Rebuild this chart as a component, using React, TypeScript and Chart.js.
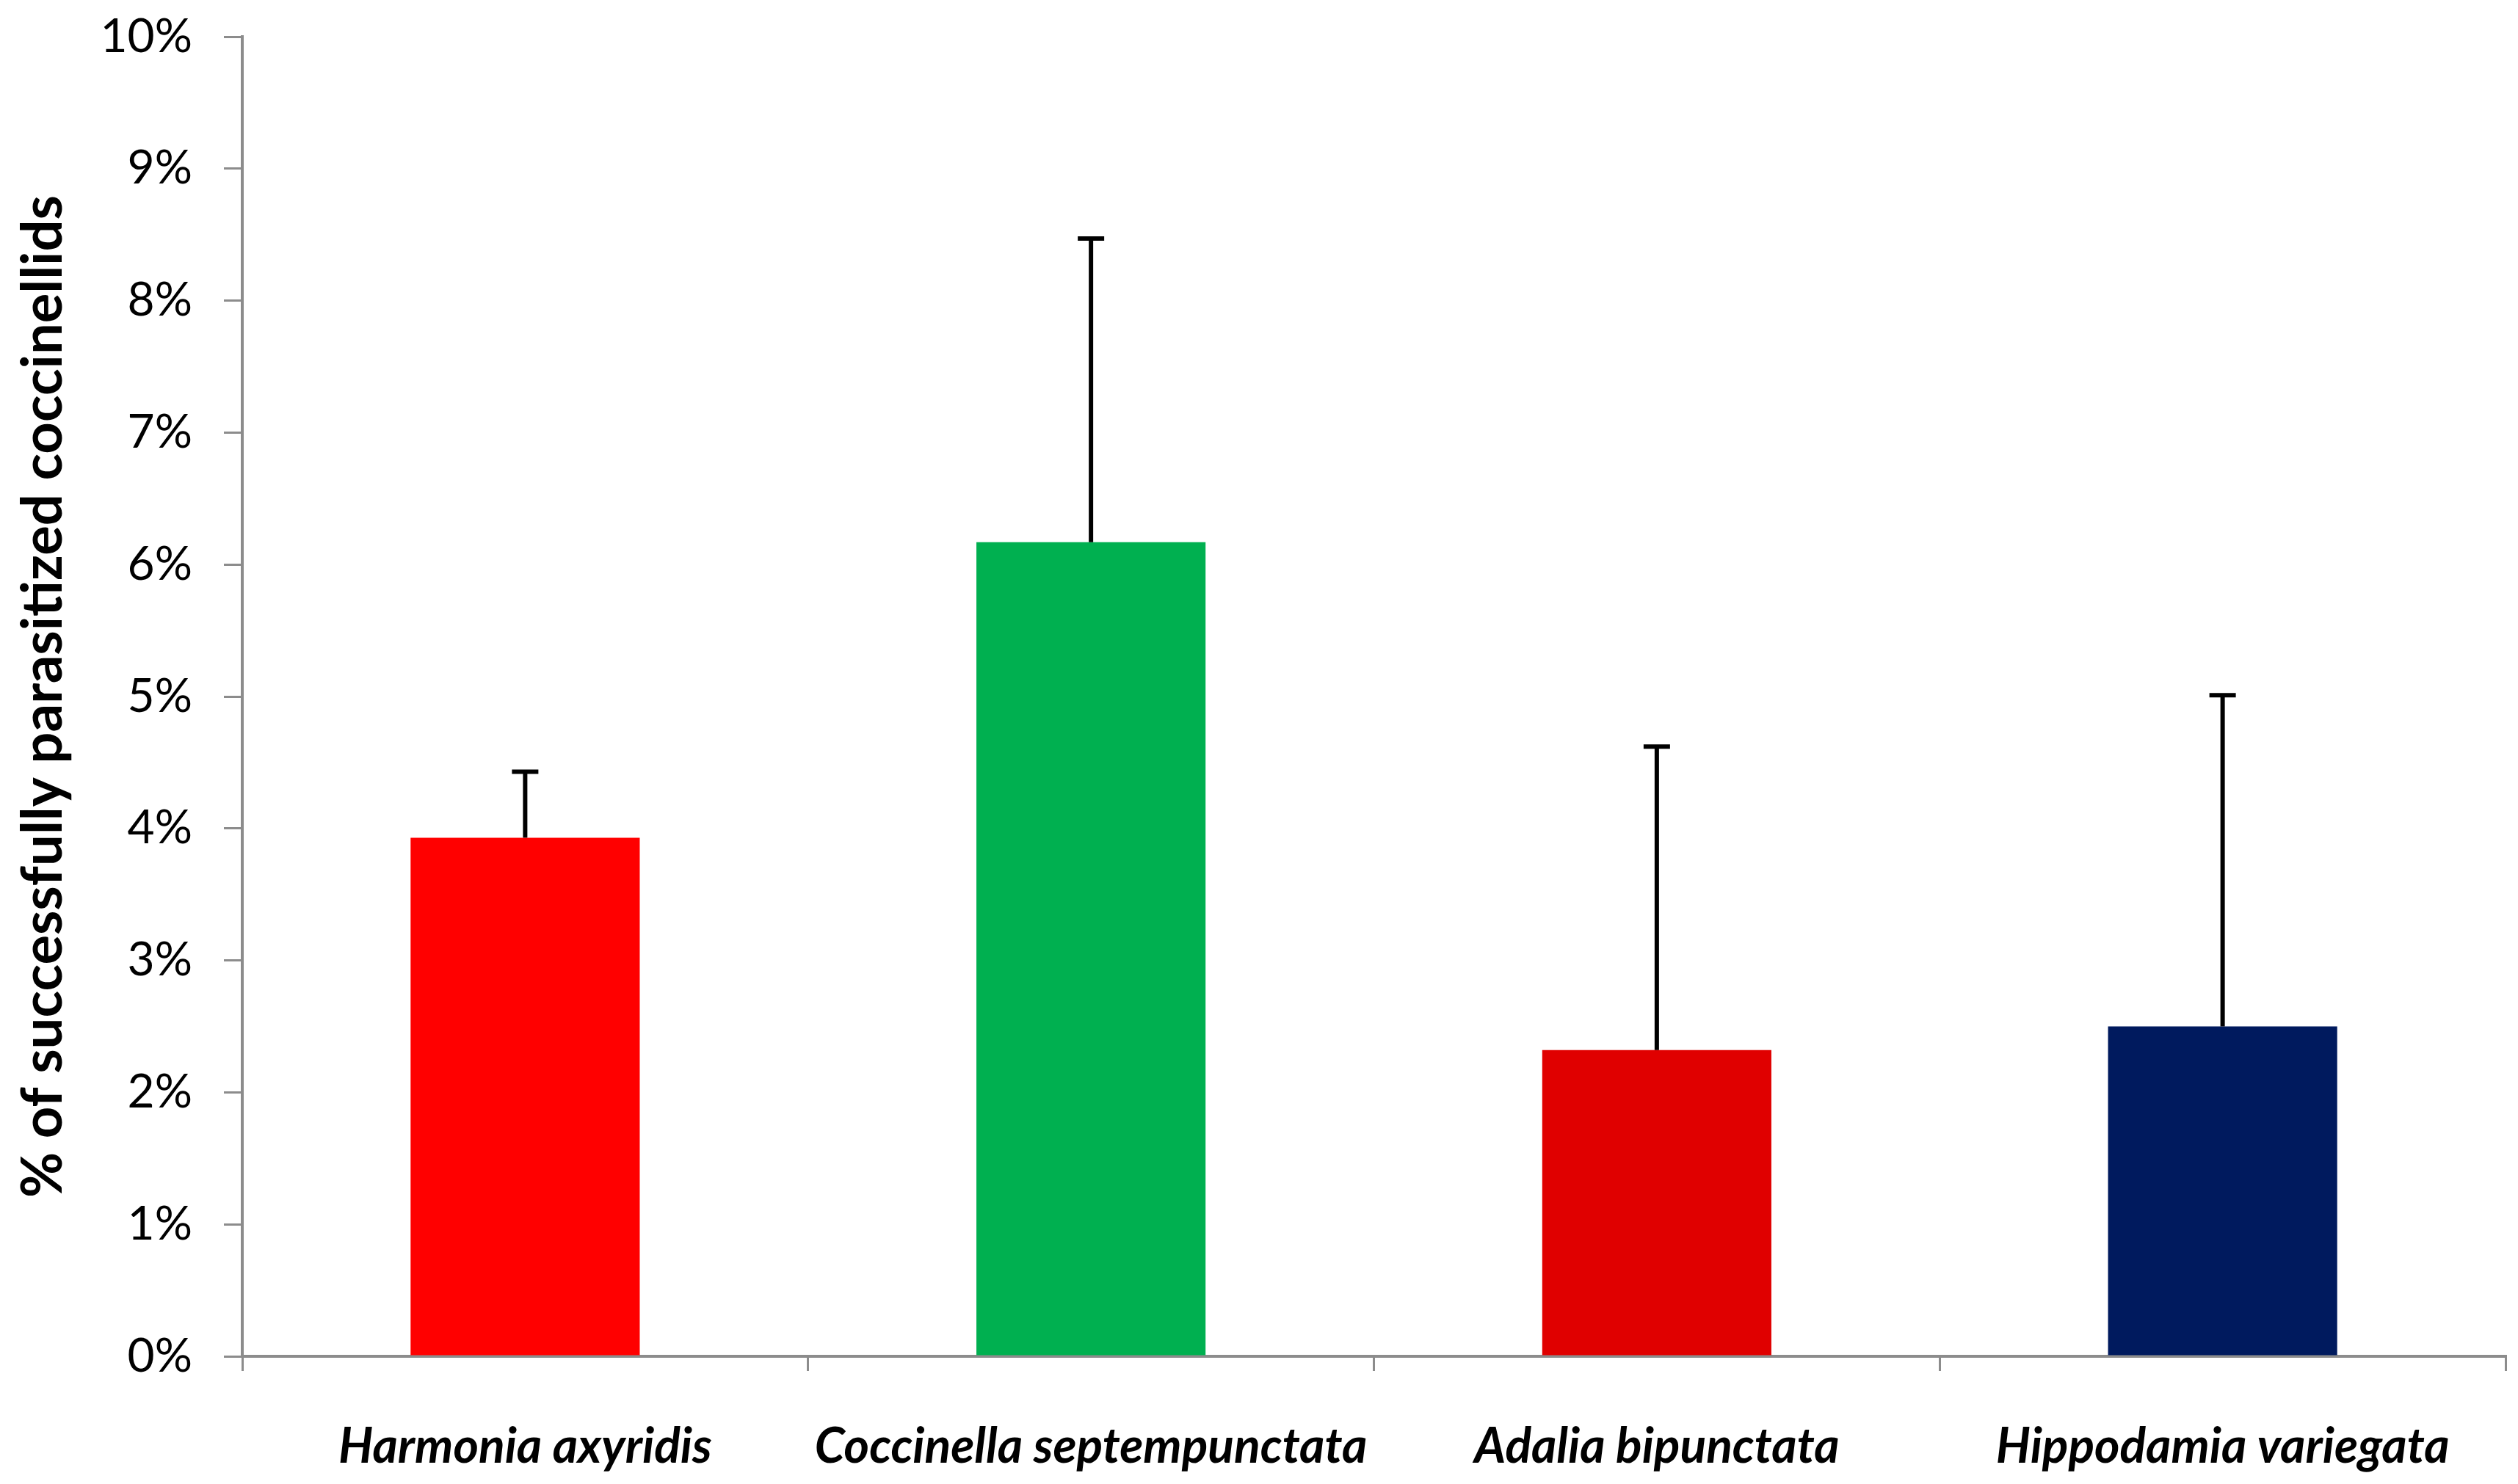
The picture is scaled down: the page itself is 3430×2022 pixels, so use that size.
import React, { useEffect, useRef } from "react";
import { Chart, registerables } from "chart.js";

Chart.register(...registerables);

const categories = [
  "Harmonia axyridis",
  "Coccinella septempunctata",
  "Adalia bipunctata",
  "Hippodamia variegata",
];
const values = [3.93, 6.17, 2.32, 2.5];
const errors = [0.5, 2.3, 2.3, 2.51];
const barColors = ["#FF0000", "#00B050", "#E00000", "#001A5E"];
const yTitle = "% of successfully parasitized coccinellids";

const W = 3430;
const H = 2022;

const errorBarPlugin = {
  id: "errorBars",
  afterDatasetsDraw(chart: any) {
    const meta = chart.getDatasetMeta(0);
    const yScale = chart.scales.y;
    const ctx = chart.ctx;
    ctx.save();
    ctx.strokeStyle = "#000000";
    ctx.lineWidth = 6;
    ctx.lineCap = "butt";
    meta.data.forEach((el: any, i: number) => {
      const x = el.x;
      const yTop = yScale.getPixelForValue(values[i] + errors[i]);
      const yBar = el.y;
      ctx.beginPath();
      ctx.moveTo(x, yBar);
      ctx.lineTo(x, yTop);
      ctx.stroke();
      ctx.beginPath();
      ctx.moveTo(x - 18, yTop);
      ctx.lineTo(x + 18, yTop);
      ctx.stroke();
    });
    ctx.restore();
  },
};

export default function App() {
  const ref = useRef<HTMLCanvasElement | null>(null);
  useEffect(() => {
    if (!ref.current) return;
    const chart = new Chart(ref.current, {
      type: "bar",
      data: {
        labels: categories,
        datasets: [
          {
            data: values,
            backgroundColor: barColors,
            borderWidth: 0,
            categoryPercentage: 0.405,
            barPercentage: 1,
          },
        ],
      },
      options: {
        animation: false,
        responsive: false,
        devicePixelRatio: 1,
        layout: { padding: { top: 50, right: 17, bottom: 0, left: 0 } },
        plugins: {
          legend: { display: false },
          tooltip: { enabled: false },
        },
        scales: {
          x: {
            grid: {
              display: true,
              drawOnChartArea: false,
              drawTicks: true,
              tickLength: 20,
              color: "#8C8C8C",
              lineWidth: 3,
              offset: true,
            },
            border: { display: true, color: "#8C8C8C", width: 4 },
            ticks: {
              color: "#000000",
              padding: 64,
              maxRotation: 0,
              autoSkip: false,
              font: { family: "Lato", size: 66, weight: "bold", style: "italic" },
            },
            afterFit(scale: any) {
              scale.height = 174;
              scale.paddingLeft = 0;
              scale.paddingRight = 0;
            },
          },
          y: {
            min: 0,
            max: 10,
            grid: {
              display: true,
              drawOnChartArea: false,
              drawTicks: true,
              tickLength: 25,
              color: "#8C8C8C",
              lineWidth: 3,
            },
            border: { display: true, color: "#8C8C8C", width: 4 },
            ticks: {
              stepSize: 1,
              color: "#000000",
              padding: 43,
              font: { family: "Lato", size: 64 },
              callback: (v: any) => `${v}%`,
            },
            title: {
              display: true,
              text: yTitle,
              color: "#000000",
              padding: { top: 14, bottom: 0 },
              font: { family: "Lato", size: 76, weight: "bold" },
            },
            afterFit(scale: any) {
              scale.width = 330;
              scale.paddingTop = 30;
              scale.paddingBottom = 30;
            },
          },
        },
      },
      plugins: [errorBarPlugin],
    });
    return () => chart.destroy();
  }, []);
  return (
    <div style={{ position: "fixed", left: 0, top: 0, width: W, height: H, background: "#fff" }}>
      <canvas ref={ref} width={W} height={H} style={{ display: "block", width: W, height: H }} />
    </div>
  );
}
